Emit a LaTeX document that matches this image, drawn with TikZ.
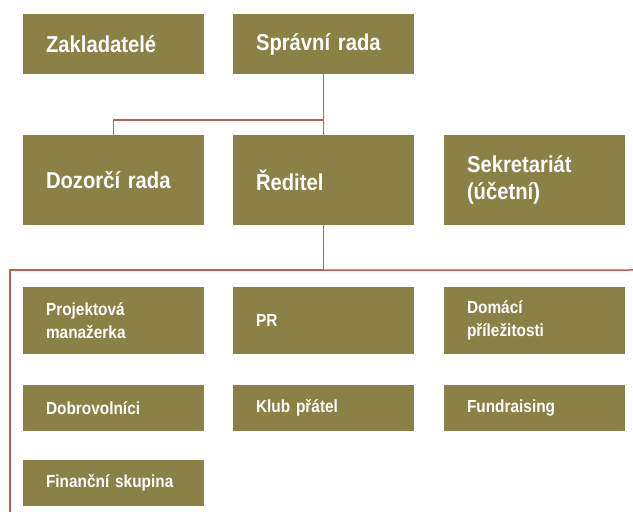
\documentclass[tikz,border=0pt]{standalone}
\usepackage{fontspec}
\setmainfont{Liberation Sans}[FakeStretch=0.88]
\usetikzlibrary{positioning}
\definecolor{boxolive}{RGB}{139,128,70}
\definecolor{linered}{RGB}{192,96,80}
\tikzstyle{box} = [rectangle, fill=boxolive, text=white, align=left,
    text width=135pt, inner xsep=23pt, inner ysep=0pt]
\tikzstyle{bigbox} = [box, font=\bfseries\fontsize{23}{27}\selectfont]
\tikzstyle{smallbox} = [box, font=\bfseries\fontsize{17.5}{22.5}\selectfont]
\tikzstyle{line} = [draw, linered, line width=1.5pt]

\begin{document}
\begin{tikzpicture}[node distance = 210pt, auto]
    \useasboundingbox (0,0) rectangle (633pt,512pt);
    % Place nodes

    \node [bigbox, minimum height=60pt] (zakladatele) at (113.5pt,468pt) {Zakladatelé};
    \node [bigbox, minimum height=60pt, right of=zakladatele] (spravni) {Správní rada};
    \node [bigbox, minimum height=90pt, below of=zakladatele, node distance=136pt] (dozorci) {Dozorčí rada};
    \node [bigbox, minimum height=90pt, right of=dozorci] (reditel) {Ředitel};
    \node [bigbox, minimum height=90pt, right of=reditel, node distance=211pt] (sekretariat) {Sekretariát\\(účetní)};
    \node [smallbox, minimum height=67pt, below of=dozorci, node distance=140.5pt] (projekt) {Projektová\\manažerka};
    \node [smallbox, minimum height=67pt, right of=projekt] (pr) {PR};
    \node [smallbox, minimum height=67pt, right of=pr, node distance=211pt] (domaci) {Domácí\\příležitosti};
    \node [smallbox, minimum height=46pt, below of=projekt, node distance=87.5pt] (dobro) {Dobrovolníci};
    \node [smallbox, minimum height=46pt, right of=dobro] (klub) {Klub přátel};
    \node [smallbox, minimum height=46pt, right of=klub, node distance=211pt] (fund) {Fundraising};
    \node [smallbox, minimum height=46pt, below of=dobro, node distance=75pt] (financni) {Finanční skupina};

    \path (spravni.south) ++(0,-46pt) coordinate (topjoin);
    \path (reditel.south) ++(0,-45pt) coordinate (midjoin);
    \coordinate (rightend) at (633pt,242pt);
    \coordinate (bottomend) at (10pt,0pt);

    % Draw edges
    \path [line] (spravni.south) -- (reditel.north);
    \path [line] (topjoin) -| (dozorci.north);
    \path [line] (reditel.south) -- (midjoin);
    \path [line] (midjoin) -- (rightend);
    \path [line] (midjoin) -| (bottomend);
\end{tikzpicture}
\end{document}
